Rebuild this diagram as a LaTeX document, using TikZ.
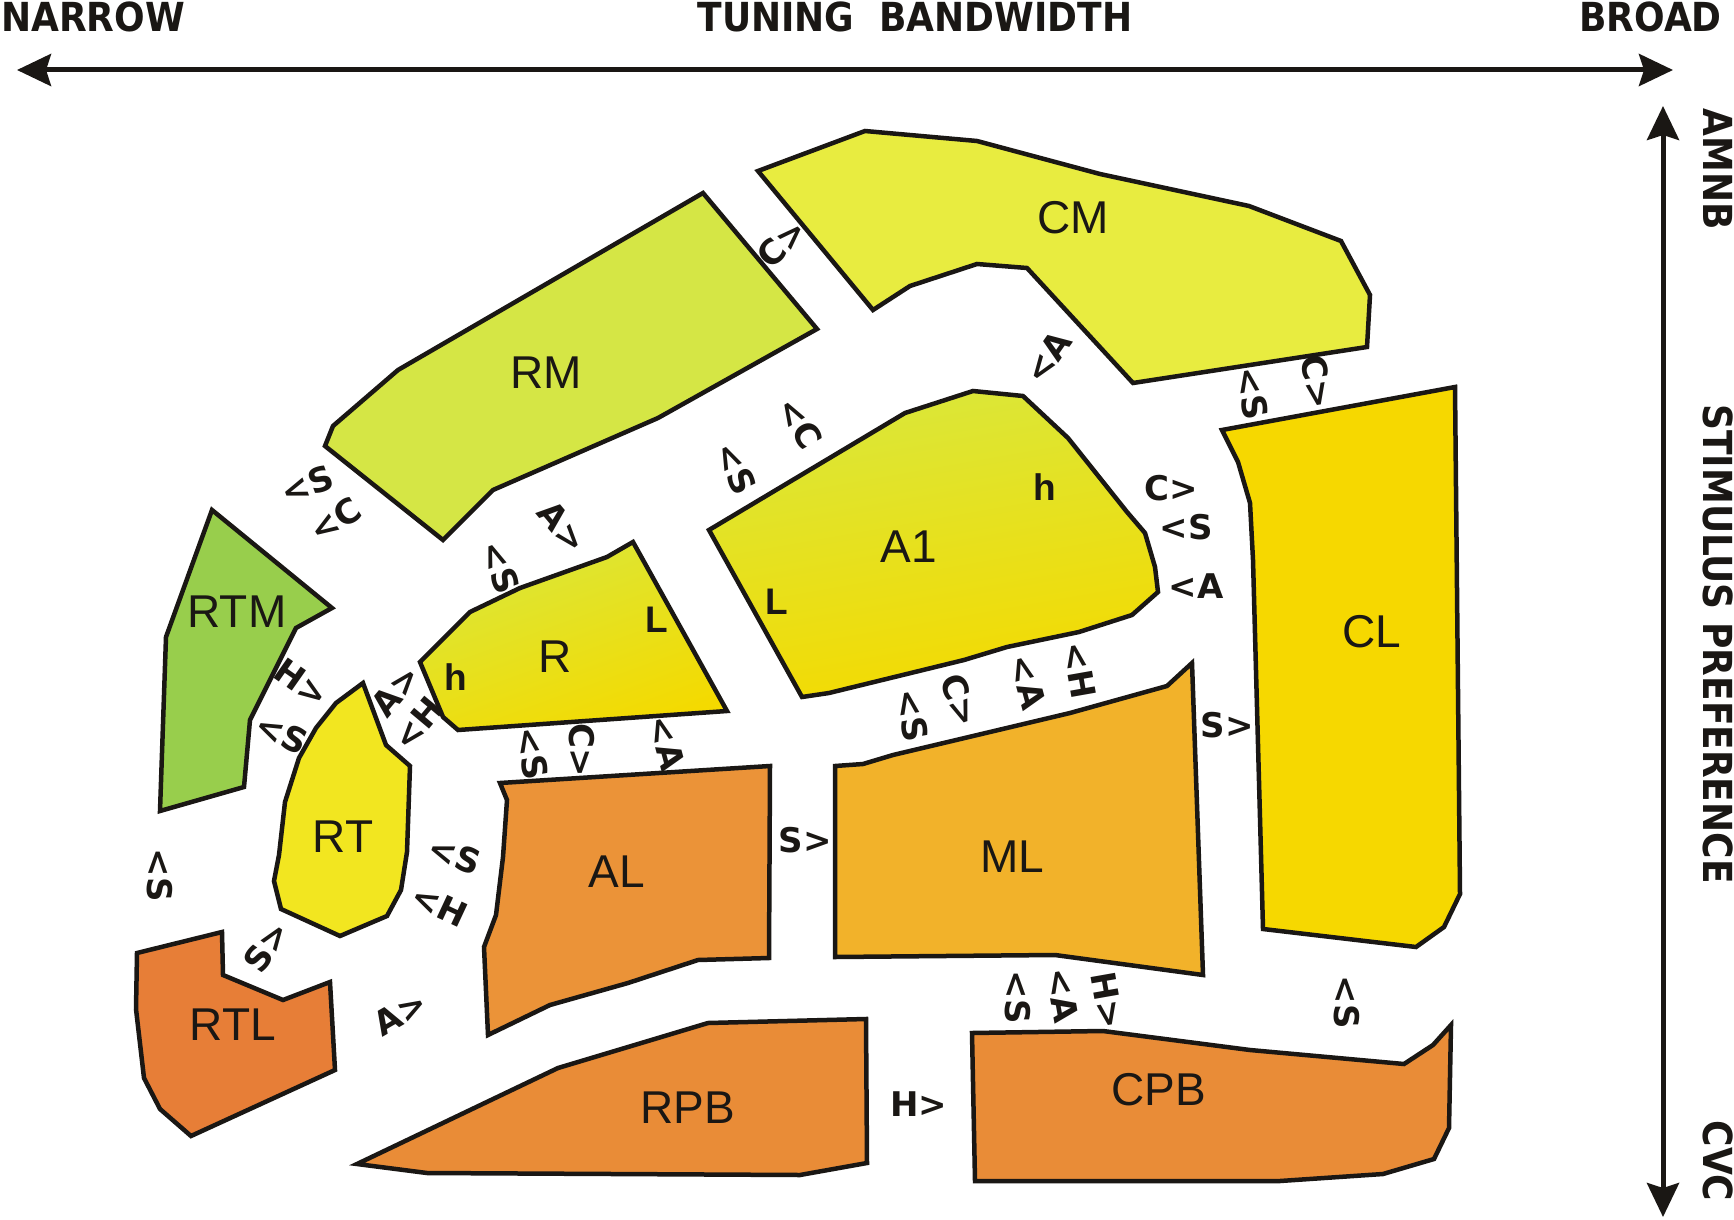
\documentclass[tikz,border=0pt]{standalone}
\usepackage{fontspec}
\setmainfont{Liberation Sans}
\newfontfamily\tagfont{DejaVu Sans}
\newfontfamily\axisfont{DejaVu Sans Condensed}
\usetikzlibrary{arrows.meta}
\definecolor{cmcol}{RGB}{232,236,64}
\definecolor{rmcol}{RGB}{213,230,69}
\definecolor{rtmcol}{RGB}{152,206,76}
\definecolor{rtcol}{RGB}{242,230,32}
\definecolor{clcol}{RGB}{246,216,0}
\definecolor{mlcol}{RGB}{242,178,42}
\definecolor{alcol}{RGB}{235,147,56}
\definecolor{pbcol}{RGB}{233,140,55}
\definecolor{rtlcol}{RGB}{231,126,55}
\definecolor{ytop}{RGB}{218,231,58}
\definecolor{ybot}{RGB}{244,218,0}
\definecolor{edge}{RGB}{26,23,20}
\tikzset{
  region/.style={draw=edge, line width=4.5pt, line join=miter},
  regname/.style={font=\fontsize{46}{55}\selectfont, text=edge},
  letter/.style={font=\fontsize{37}{44}\selectfont\bfseries, inner sep=0pt, text=edge},
  dirtag/.style={font=\tagfont\fontsize{34}{40}\selectfont\bfseries, inner sep=0pt, text=edge},
  axislbl/.style={font=\axisfont\fontsize{40}{48}\selectfont\bfseries, inner sep=0pt, text=edge},
  axisarrow/.style={draw=edge, line width=5pt,
    arrows={Stealth[length=34pt,width=32pt,inset=5pt]-Stealth[length=34pt,width=32pt,inset=5pt]}}
}

\begin{document}
\begin{tikzpicture}[x=1pt,y=-1pt]
  \useasboundingbox (0,0) rectangle (1734,1220);

  % axes
  \coordinate (nl) at (17,70);
  \coordinate (nr) at (1673,70);
  \coordinate (pt) at (1663,106);
  \coordinate (pb) at (1663,1217);
  \draw[axisarrow] (nl) -- (nr);
  \draw[axisarrow] (pt) -- (pb);
  \node[axislbl, anchor=west] (narrow) at (1,17) {NARROW};
  \node[axislbl] (tuning) at (915,17) {TUNING\ \ BANDWIDTH};
  \node[axislbl, anchor=east] (broad) at (1722,17) {BROAD};
  \node[axislbl, rotate=-90] (amnb) at (1718,169) {AMNB};
  \node[axislbl, rotate=-90] (stim) at (1718,644) {STIMULUS PREFERENCE};
  \node[axislbl, rotate=-90] (cvc) at (1718,1161) {CVC};

  % fields
  \draw[region, fill=cmcol] (758,171) -- (865,131) -- (977,141) -- (1100,174) -- (1249,206)
    -- (1341,241) -- (1370,295) -- (1367,347) -- (1133,383) -- (1027,268) -- (977,264)
    -- (910,286) -- (873,310) -- cycle;
  \draw[region, fill=rmcol] (703,193) -- (817,329) -- (658,418) -- (493,490) -- (443,540)
    -- (325,446) -- (333,426) -- (398,370) -- cycle;
  \draw[region, fill=rtmcol] (212,510) -- (332,608) -- (296,628) -- (250,720) -- (244,787)
    -- (160,811) -- (166,637) -- cycle;
  \path[region, top color=ytop, bottom color=ybot, shading angle=20] (633,542) -- (727,711)
    -- (458,730) -- (443,717) -- (420,662) -- (470,612) -- (520,588) -- (607,557) -- cycle;
  \draw[region, fill=rtcol] (363,683) -- (386,745) -- (410,766) -- (407,852) -- (401,890)
    -- (387,916) -- (340,936) -- (281,909) -- (274,881) -- (279,855) -- (285,802)
    -- (299,758) -- (316,728) -- (336,703) -- cycle;
  \draw[region, fill=rtlcol] (137,953) -- (222,932) -- (223,975) -- (283,1000) -- (330,982)
    -- (335,1070) -- (191,1136) -- (160,1109) -- (144,1078) -- (136,1009) -- cycle;
  \path[region, top color=ytop, bottom color=ybot, shading angle=10] (709,530) -- (905,413)
    -- (973,391) -- (1023,396) -- (1068,438) -- (1127,512) -- (1145,533) -- (1155,567)
    -- (1158,592) -- (1132,615) -- (1079,632) -- (1007,647) -- (964,660) -- (829,693)
    -- (802,697) -- cycle;
  \draw[region, fill=alcol] (500,783) -- (770,766) -- (769,958) -- (698,960) -- (628,983)
    -- (550,1005) -- (488,1035) -- (484,947) -- (496,915) -- (503,857) -- (507,800) -- cycle;
  \draw[region, fill=mlcol] (835,766) -- (863,764) -- (893,755) -- (1070,713) -- (1167,686)
    -- (1192,663) -- (1203,975) -- (1055,955) -- (835,957) -- cycle;
  \draw[region, fill=clcol] (1222,430) -- (1455,387) -- (1460,894) -- (1444,927) -- (1416,947)
    -- (1263,929) -- (1253,560) -- (1250,503) -- (1238,462) -- cycle;
  \draw[region, fill=pbcol] (357,1164) -- (558,1068) -- (708,1023) -- (866,1019) -- (867,1163)
    -- (800,1175) -- (427,1173) -- cycle;
  \draw[region, fill=pbcol] (972,1033) -- (1103,1031) -- (1250,1050) -- (1404,1064)
    -- (1433,1045) -- (1451,1025) -- (1449,1128) -- (1434,1159) -- (1383,1174)
    -- (1280,1181) -- (975,1181) -- cycle;

  % field names
  \node[regname] (cm) at (1073,218) {CM};
  \node[regname] (rm) at (546,373) {RM};
  \node[regname] (rtm) at (237,612) {RTM};
  \node[regname] (r) at (555,657) {R};
  \node[regname] (a1) at (909,547) {A1};
  \node[regname] (cl) at (1372,632) {CL};
  \node[regname] (rt) at (343,837) {RT};
  \node[regname] (al) at (617,872) {AL};
  \node[regname] (ml) at (1012,857) {ML};
  \node[regname] (rtl) at (233,1025) {RTL};
  \node[regname] (rpb) at (688,1108) {RPB};
  \node[regname] (cpb) at (1159,1090) {CPB};
  \node[letter] (rh) at (456,677) {h};
  \node[letter] (rl) at (657,620) {L};
  \node[letter] (ah) at (1045,487) {h};
  \node[letter] (al1) at (777,602) {L};

  % gradient tags
  \node[dirtag, rotate=20] (t1) at (307,485) {<S};
  \node[dirtag, rotate=33] (t2) at (335,520) {<C};
  \node[dirtag, rotate=-50] (t3) at (563,527) {A>};
  \node[dirtag, rotate=-70] (t4) at (500,567) {<S};
  \node[dirtag, rotate=-35] (t5) at (302,683) {H>};
  \node[dirtag, rotate=-25] (t6) at (282,733) {<S};
  \node[dirtag, rotate=50] (t7) at (396,691) {A>};
  \node[dirtag, rotate=50] (t8) at (418,724) {<H};
  \node[dirtag, rotate=-80] (t9) at (532,753) {<S};
  \node[dirtag, rotate=-90] (t10) at (582,750) {C>};
  \node[dirtag, rotate=-75] (t11) at (667,743) {<A};
  \node[dirtag, rotate=45] (t12) at (782,243) {C>};
  \node[dirtag, rotate=55] (t13) at (1048,357) {<A};
  \node[dirtag, rotate=-60] (t14) at (800,423) {<C};
  \node[dirtag, rotate=-65] (t15) at (736,468) {<S};
  \node[dirtag] (t16) at (1171,488) {C>};
  \node[dirtag] (t17) at (1186,527) {<S};
  \node[dirtag] (t18) at (1196,586) {<A};
  \node[dirtag, rotate=-80] (t19) at (1252,393) {<S};
  \node[dirtag, rotate=-80] (t20) at (1317,382) {C>};
  \node[dirtag, rotate=-80] (t21) at (912,715) {<S};
  \node[dirtag, rotate=-70] (t22) at (960,700) {C>};
  \node[dirtag, rotate=-75] (t23) at (1028,682) {<A};
  \node[dirtag, rotate=-80] (t24) at (1080,670) {<H};
  \node[dirtag] (t25) at (1227,725) {S>};
  \node[dirtag] (t26) at (805,840) {S>};
  \node[dirtag, rotate=-20] (t27) at (455,855) {<S};
  \node[dirtag, rotate=-25] (t28) at (440,905) {<H};
  \node[dirtag, rotate=55] (t29) at (267,947) {S>};
  \node[dirtag, rotate=-90] (t30) at (160,875) {<S};
  \node[dirtag, rotate=30] (t31) at (400,1013) {A>};
  \node[dirtag, rotate=-90] (t32) at (1018,997) {<S};
  \node[dirtag, rotate=-80] (t33) at (1063,995) {<A};
  \node[dirtag, rotate=-80] (t34) at (1108,1000) {H>};
  \node[dirtag, rotate=-90] (t35) at (1347,1002) {<S};
  \node[dirtag] (t36) at (919,1104) {H>};
\end{tikzpicture}
\end{document}
